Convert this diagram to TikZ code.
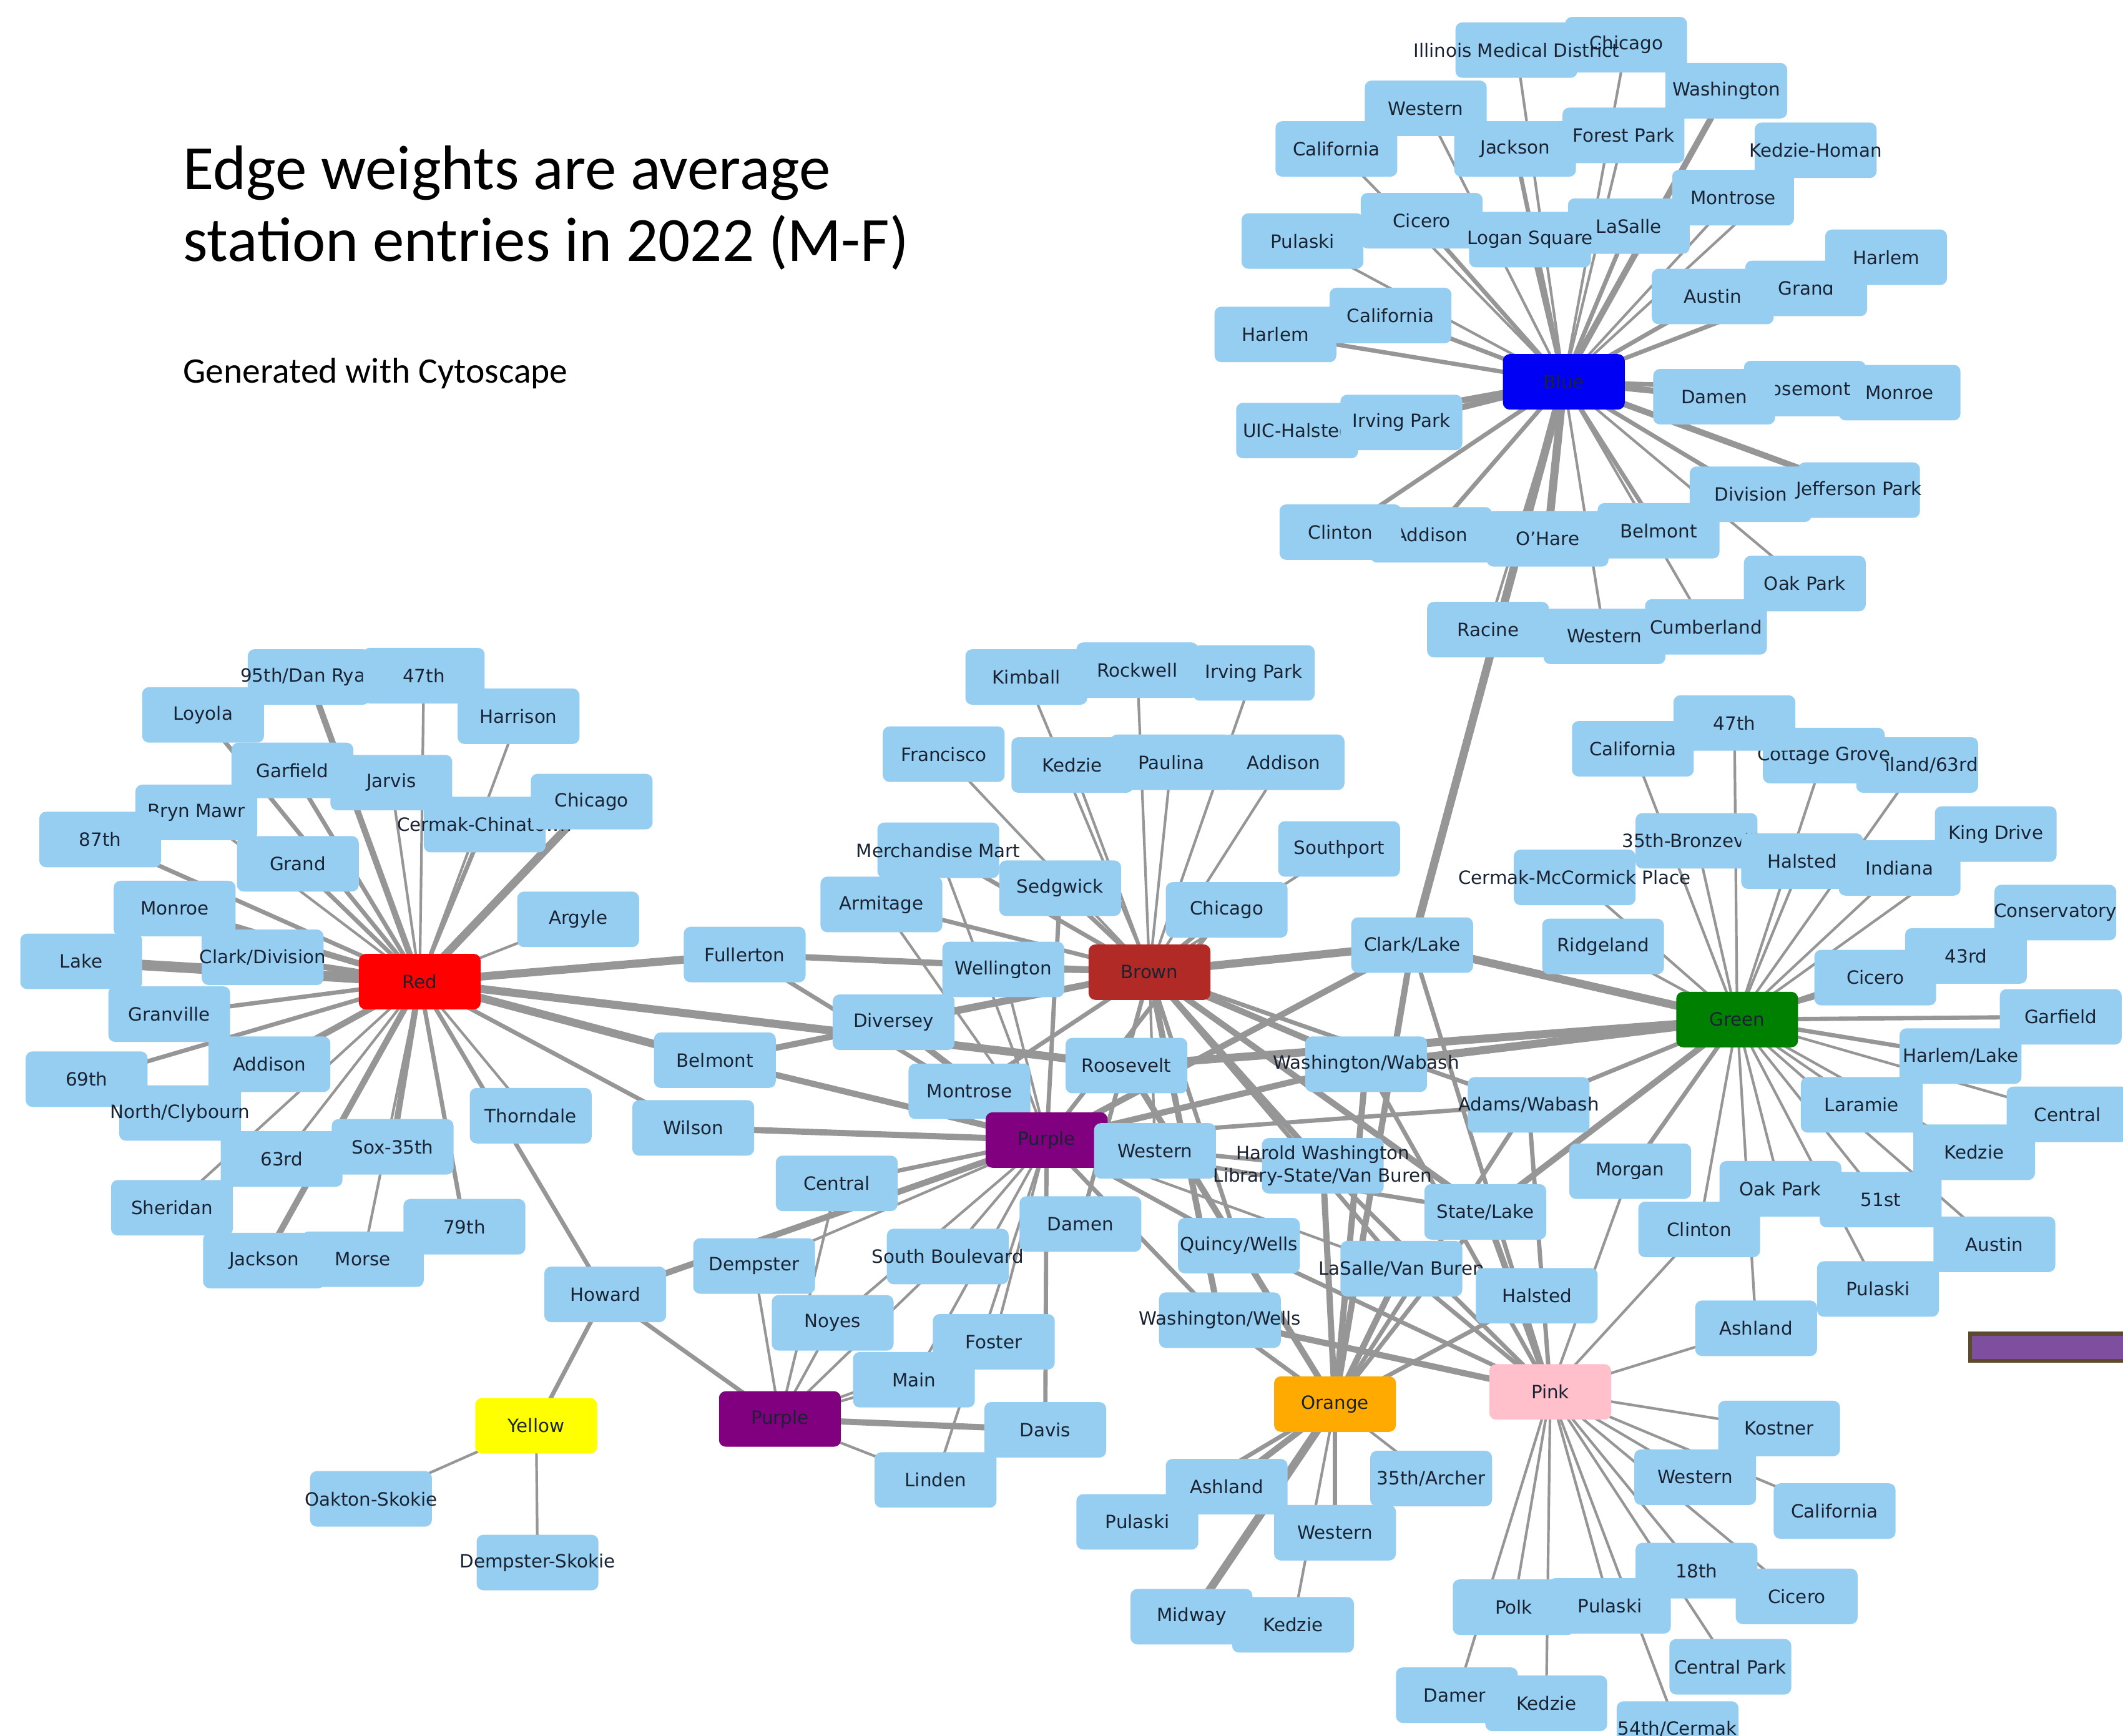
\documentclass[tikz,border=0pt]{standalone}
\usepackage{fontspec}
\setmainfont{DejaVu Sans}
\newfontfamily\titlefont{Carlito}
\pgfdeclarelayer{paper}
\pgfdeclarelayer{edges}
\pgfsetlayers{paper,edges,main}
\definecolor{stfill}{RGB}{150,206,242}
\definecolor{edgec}{RGB}{150,150,150}
\definecolor{txt}{RGB}{25,35,50}
\definecolor{hubred}{RGB}{255,0,0}
\definecolor{hubblue}{RGB}{0,0,245}
\definecolor{hubbrown}{RGB}{178,42,38}
\definecolor{hubgreen}{RGB}{0,128,0}
\definecolor{hubpurple}{RGB}{128,0,128}
\definecolor{huborange}{RGB}{255,170,0}
\definecolor{hubpink}{RGB}{255,192,203}
\definecolor{hubyellow}{RGB}{255,255,0}
\definecolor{barfill}{RGB}{127,79,159}
\definecolor{barline}{RGB}{92,75,43}
\tikzset{
  stbox/.style={rectangle, rounded corners=0.1cm, fill=stfill, minimum width=1.8cm, minimum height=0.82cm, inner sep=0pt},
  hubbox/.style={stbox, fill=#1},
  stlbl/.style={font=\fontsize{7.7}{9.6}\selectfont, text=txt, inner sep=0pt, align=center},
  w1/.style={draw=edgec, line width=1.1pt},
  w2/.style={draw=edgec, line width=1.8pt},
  w3/.style={draw=edgec, line width=2.6pt},
  w4/.style={draw=edgec, line width=3.4pt},
  w5/.style={draw=edgec, line width=4.4pt},
  titletxt/.style={anchor=base west, inner sep=0pt, text=black},
}
\newcommand\stn[3]{\node[stbox] (#1) at (#2) {}; \node[stlbl] at (#1.center) {#3};}
\newcommand\hubn[4]{\node[hubbox=#3] (#1) at (#2) {}; \node[stlbl] at (#1.center) {#4};}
\newcommand\fan[2]{\foreach \fanT/\fanW in {#2}{\draw[\fanW] (#1.center) -- (\fanT.center);}}
\begin{document}
\begin{tikzpicture}[x=0.02cm, y=-0.02cm]
\useasboundingbox (0,0) rectangle (1568,1282);
\begin{pgfonlayer}{paper}
\fill[white] (0,0) rectangle (1568,1282);
\end{pgfonlayer}

% title
\node[titletxt, font=\titlefont\fontsize{26.5}{30}\selectfont] (t1) at (135,140) {Edge weights are average};
\node[titletxt, font=\titlefont\fontsize{26.5}{30}\selectfont] (t2) at (135,193) {station entries in 2022 (M-F)};
\node[titletxt, font=\titlefont\fontsize{15.1}{18}\selectfont] (t3) at (135,283) {Generated with Cytoscape};

% ---------------- Blue cluster
\stn{bChi}{1201,33}{Chicago}
\stn{bIMD}{1120,37}{Illinois Medical District}
\stn{bWash}{1275,67}{Washington}
\stn{bWest}{1053,80}{Western}
\stn{bCal}{987,110}{California}
\stn{bJack}{1119,110}{Jackson}
\stn{bFP}{1199,100}{Forest Park}
\stn{bKH}{1341,111}{Kedzie-Homan}
\stn{bMont}{1280,146}{Montrose}
\stn{bPul}{962,178}{Pulaski}
\stn{bCic}{1050,163}{Cicero}
\stn{bLaS}{1203,167}{LaSalle}
\stn{bLS}{1130,177}{Logan Square}
\stn{bAus}{1265,219}{Austin}
\stn{bGrand}{1334,213}{Grand}
\stn{bHarR}{1393,190}{Harlem}
\stn{bCal2}{1027,233}{California}
\stn{bHar2}{942,247}{Harlem}
\hubn{Blue}{1155,282}{hubblue}{Blue}
\stn{bMon}{1403,290}{Monroe}
\stn{bRos}{1333,287}{Rosemont}
\stn{bDam}{1266,293}{Damen}
\stn{bUIC}{958,318}{UIC-Halsted}
\stn{bIP}{1035,312}{Irving Park}
\stn{bDiv}{1293,365}{Division}
\stn{bJP}{1373,362}{Jefferson Park}
\stn{bAdd}{1057,395}{Addison}
\stn{bCli}{990,393}{Clinton}
\stn{bOH}{1143,398}{O'Hare}
\stn{bBel}{1225,392}{Belmont}
\stn{bOP}{1333,431}{Oak Park}
\stn{bRac}{1099,465}{Racine}
\stn{bWes2}{1185,470}{Western}
\stn{bCum}{1260,463}{Cumberland}

% ---------------- Red cluster
\stn{r95}{228,500}{95th/Dan Ryan}
\stn{r47}{313,499}{47th}
\stn{rLoy}{150,528}{Loyola}
\stn{rHar}{383,529}{Harrison}
\stn{rGar}{216,569}{Garfield}
\stn{rJar}{289,578}{Jarvis}
\stn{rCC}{358,609}{Cermak-Chinatown}
\stn{rChi}{437,592}{Chicago}
\stn{rBM}{145,600}{Bryn Mawr}
\stn{r87}{74,620}{87th}
\stn{rGrand}{220,638}{Grand}
\stn{rMon}{129,671}{Monroe}
\stn{rArg}{427,679}{Argyle}
\stn{rLake}{60,710}{Lake}
\stn{rCD}{194,707}{Clark/Division}
\hubn{Red}{310,725}{hubred}{Red}
\stn{rGran}{125,749}{Granville}
\stn{rAdd}{199,786}{Addison}
\stn{r69}{64,797}{69th}
\stn{rNC}{133,822}{North/Clybourn}
\stn{rThor}{392,824}{Thorndale}
\stn{rSox}{290,847}{Sox-35th}
\stn{r63}{208,856}{63rd}
\stn{rSher}{127,892}{Sheridan}
\stn{r79}{343,906}{79th}
\stn{rJack}{195,931}{Jackson}
\stn{rMorse}{268,930}{Morse}
\stn{Howard}{447,956}{Howard}

% ---------------- Brown cluster
\stn{nKim}{758,500}{Kimball}
\stn{nRock}{840,495}{Rockwell}
\stn{nIP}{926,497}{Irving Park}
\stn{nFran}{697,557}{Francisco}
\stn{nKed}{792,565}{Kedzie}
\stn{nPaul}{865,563}{Paulina}
\stn{nAdd}{948,563}{Addison}
\stn{nSouth}{989,627}{Southport}
\stn{nMM}{693,628}{Merchandise Mart}
\stn{nArm}{651,668}{Armitage}
\stn{nSedg}{783,656}{Sedgwick}
\stn{nChi}{906,672}{Chicago}
\stn{Fullerton}{550,705}{Fullerton}
\stn{Wellington}{741,716}{Wellington}
\hubn{Brown}{849,718}{hubbrown}{Brown}
\stn{Diversey}{660,755}{Diversey}
\stn{Belmont}{528,783}{Belmont}
\stn{nMont}{716,806}{Montrose}
\stn{Wilson}{512,833}{Wilson}
\stn{Roosevelt}{832,787}{Roosevelt}

% ---------------- Loop / middle
\stn{ClarkLake}{1043,698}{Clark/Lake}
\stn{Ridgeland}{1184,699}{Ridgeland}
\stn{WashWab}{1009,786}{Washington/Wabash}
\stn{AdamsWab}{1129,816}{Adams/Wabash}
\hubn{Purple}{773,842}{hubpurple}{Purple}
\stn{nWest}{853,850}{Western}
\stn{HWL}{977,861}{Harold Washington\\Library-State/Van Buren}
\stn{Morgan}{1204,865}{Morgan}
\stn{StateLake}{1097,895}{State/Lake}
\stn{Quincy}{915,920}{Quincy/Wells}
\stn{LaSalleVB}{1035,937}{LaSalle/Van Buren}
\stn{Halsted}{1135,957}{Halsted}
\stn{WashWells}{901,975}{Washington/Wells}

% ---------------- Evanston / Yellow
\stn{Central}{618,874}{Central}
\stn{nDam}{798,904}{Damen}
\stn{Dempster}{557,935}{Dempster}
\stn{SouthBlvd}{700,928}{South Boulevard}
\stn{Noyes}{615,977}{Noyes}
\stn{Foster}{734,991}{Foster}
\stn{Main}{675,1019}{Main}
\stn{Davis}{772,1056}{Davis}
\stn{Linden}{691,1093}{Linden}
\hubn{PurpleL}{576,1048}{hubpurple}{Purple}
\hubn{Yellow}{396,1053}{hubyellow}{Yellow}
\stn{Oakton}{274,1107}{Oakton-Skokie}
\stn{DempSk}{397,1154}{Dempster-Skokie}

% ---------------- Green cluster
\stn{gCal}{1206,553}{California}
\stn{gA63}{1416,565}{Ashland/63rd}
\stn{gCG}{1347,558}{Cottage Grove}
\stn{g47}{1281,534}{47th}
\stn{gKD}{1474,616}{King Drive}
\stn{g35}{1253,621}{35th-Bronzeville}
\stn{gHal}{1331,636}{Halsted}
\stn{gInd}{1403,641}{Indiana}
\stn{gCMP}{1163,648}{Cermak-McCormick Place}
\stn{gCons}{1518,674}{Conservatory}
\stn{g43}{1452,706}{43rd}
\stn{gCic}{1385,722}{Cicero}
\hubn{Green}{1283,753}{hubgreen}{Green}
\stn{gGar}{1522,751}{Garfield}
\stn{gHL}{1448,780}{Harlem/Lake}
\stn{gLar}{1375,816}{Laramie}
\stn{gCen}{1527,823}{Central}
\stn{gKed}{1458,851}{Kedzie}
\stn{gOP}{1315,878}{Oak Park}
\stn{g51}{1389,886}{51st}
\stn{gCli}{1255,908}{Clinton}
\stn{gAus}{1473,919}{Austin}
\stn{gPul}{1387,952}{Pulaski}
\stn{gAsh}{1297,981}{Ashland}

% ---------------- Orange / Pink
\hubn{Orange}{986,1037}{huborange}{Orange}
\hubn{Pink}{1145,1028}{hubpink}{Pink}
\stn{oAsh}{906,1098}{Ashland}
\stn{o35}{1057,1092}{35th/Archer}
\stn{oPul}{840,1124}{Pulaski}
\stn{oWest}{986,1132}{Western}
\stn{oMid}{880,1194}{Midway}
\stn{oKed}{955,1200}{Kedzie}
\stn{pKost}{1314,1055}{Kostner}
\stn{pWest}{1252,1091}{Western}
\stn{pCal}{1355,1116}{California}
\stn{p18}{1253,1160}{18th}
\stn{pCic}{1327,1179}{Cicero}
\stn{pPolk}{1118,1187}{Polk}
\stn{pPul}{1189,1186}{Pulaski}
\stn{pCP}{1278,1231}{Central Park}
\stn{pDam}{1076,1252}{Damen}
\stn{pKed}{1142,1258}{Kedzie}
\stn{p54}{1239,1277}{54th/Cermak}

% purple bar at right edge
\fill[barfill] (1455,985) rectangle (1568,1005);
\draw[barline, line width=1.6pt] (1568,985) -- (1455,985) -- (1455,1005) -- (1568,1005);

% ---------------- edges
\begin{pgfonlayer}{edges}
\fan{Blue}{bIMD/w1,bChi/w1,bWash/w3,bWest/w1,bCal/w1,bJack/w2,bFP/w1,bKH/w1,bMont/w1,bPul/w1,bCic/w2,bLS/w2,bLaS/w2,bHarR/w1,bGrand/w2,bAus/w2,bCal2/w2,bHar2/w2,bDam/w3,bRos/w2,bMon/w2,bUIC/w3,bIP/w3,bDiv/w2,bJP/w3,bCli/w2,bAdd/w2,bOH/w4,bBel/w2,bOP/w1,bRac/w1,bWes2/w1,bCum/w1,ClarkLake/w4}
\fan{Red}{r95/w3,r47/w1,rLoy/w2,rHar/w1,rGar/w2,rJar/w1,rChi/w4,rBM/w1,rCC/w2,r87/w2,rGrand/w2,rMon/w3,rArg/w1,rLake/w5,rCD/w3,rGran/w2,rAdd/w3,r69/w2,rNC/w2,rThor/w1,rSox/w3,r63/w1,rSher/w1,r79/w2,rJack/w3,rMorse/w1,Howard/w2,Fullerton/w4,Belmont/w4,Wilson/w2,Roosevelt/w4}
\fan{Brown}{nKim/w1,nRock/w1,nIP/w1,nFran/w1,nKed/w1,nPaul/w1,nAdd/w1,nSouth/w1,nMM/w2,nSedg/w2,nArm/w2,nChi/w2,Fullerton/w3,Wellington/w2,Diversey/w3,Belmont/w3,nMont/w2,nWest/w1,nDam/w2,ClarkLake/w4,WashWab/w3,AdamsWab/w2,HWL/w3,StateLake/w3,Quincy/w2,LaSalleVB/w2,WashWells/w3}
\fan{Purple}{Howard/w3,Central/w2,Dempster/w1,SouthBlvd/w1,Noyes/w1,Foster/w1,Main/w1,Davis/w2,Linden/w1,Wilson/w3,Belmont/w3,Fullerton/w2,Diversey/w3,Wellington/w1,nArm/w1,nSedg/w2,nMM/w1,nChi/w2,ClarkLake/w3,WashWab/w3,AdamsWab/w2,HWL/w2,StateLake/w2,Quincy/w2,LaSalleVB/w1,WashWells/w2}
\fan{PurpleL}{Howard/w2,Dempster/w1,Central/w1,Noyes/w1,SouthBlvd/w1,Foster/w1,Main/w1,Davis/w3,Linden/w1}
\fan{Yellow}{Howard/w2,Oakton/w1,DempSk/w1}
\fan{Green}{gCal/w1,g47/w1,gCG/w1,gA63/w1,gKD/w1,g35/w1,gHal/w1,gInd/w1,gCMP/w1,Ridgeland/w1,gCons/w1,g43/w1,gCic/w2,gGar/w2,gHL/w2,gLar/w1,gCen/w1,gKed/w1,gOP/w1,g51/w1,gCli/w1,gAus/w1,gPul/w1,gAsh/w1,Morgan/w2,ClarkLake/w4,StateLake/w3,WashWab/w4,AdamsWab/w2,Roosevelt/w4}
\fan{Pink}{pKost/w1,pWest/w1,pCal/w1,p18/w1,pCic/w1,pPolk/w1,pPul/w1,pCP/w1,pDam/w1,pKed/w1,p54/w1,gAsh/w1,gCli/w1,Morgan/w1,ClarkLake/w2,StateLake/w3,WashWab/w2,AdamsWab/w2,HWL/w2,LaSalleVB/w2,Quincy/w2,WashWells/w3}
\fan{Orange}{oAsh/w3,oPul/w2,o35/w1,oWest/w2,oMid/w4,oKed/w1,Halsted/w2,Roosevelt/w3,ClarkLake/w3,StateLake/w2,WashWab/w3,AdamsWab/w2,HWL/w3,LaSalleVB/w3,Quincy/w2,WashWells/w2}
\end{pgfonlayer}
\end{tikzpicture}
\end{document}
